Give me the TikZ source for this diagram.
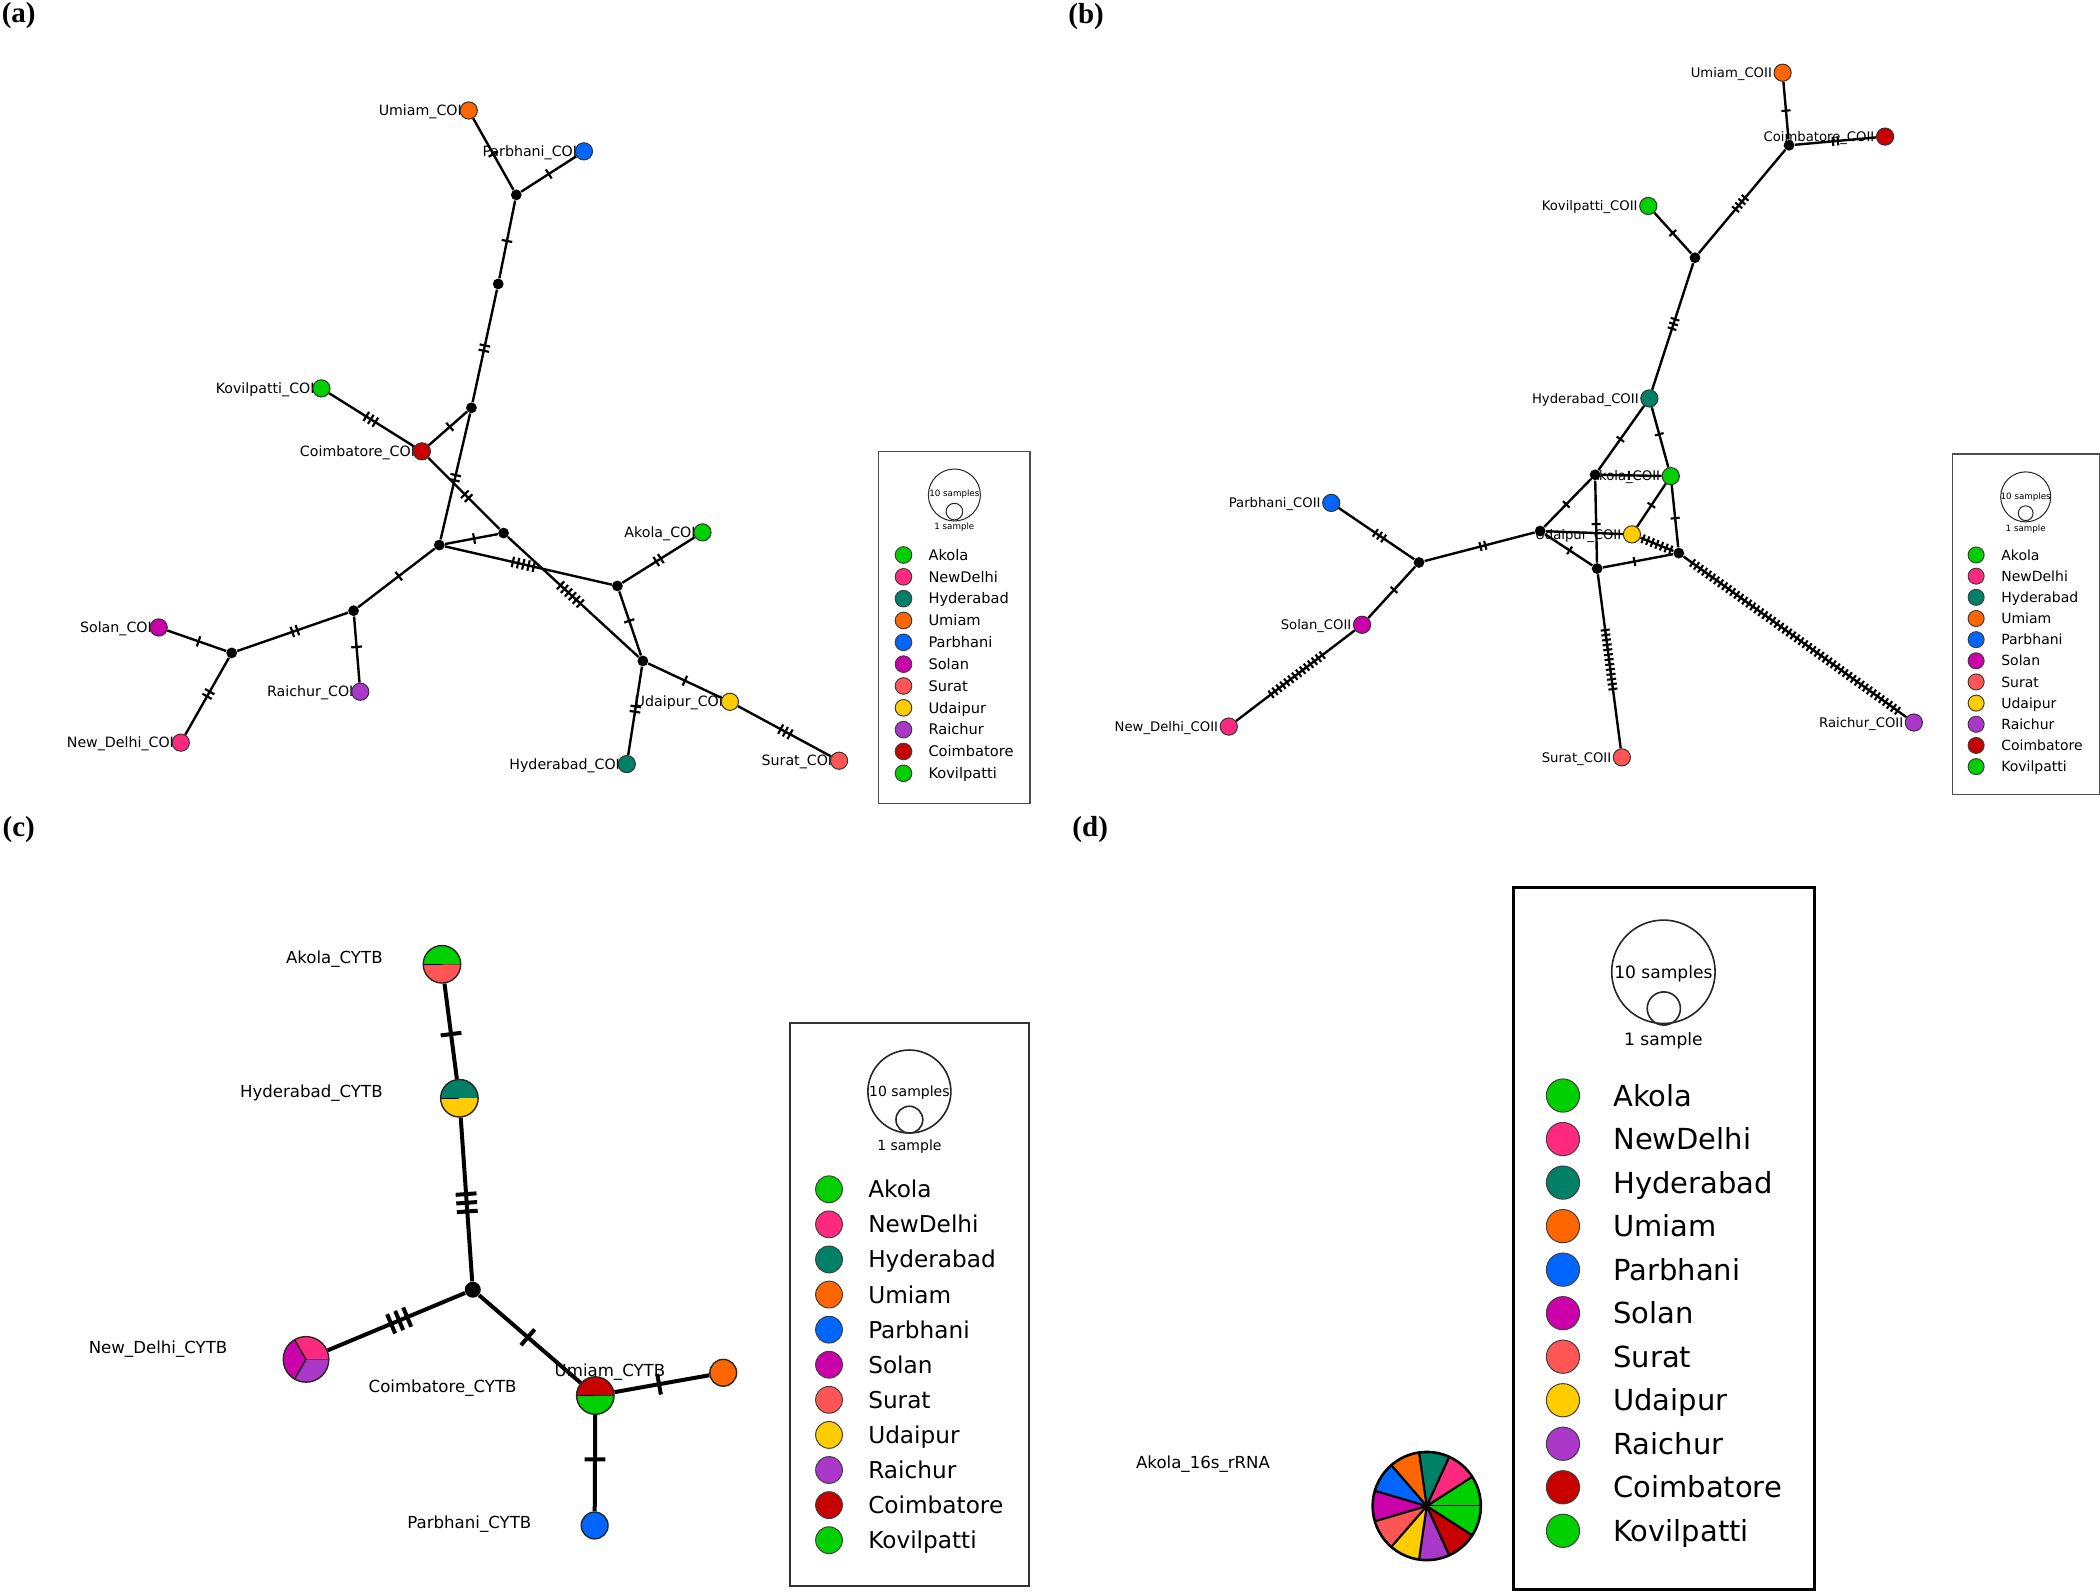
\documentclass[tikz,border=0pt]{standalone}
\usepackage{fontspec}
\setmainfont{DejaVu Sans}
\newfontfamily\serifbold{Liberation Serif}
\usetikzlibrary{decorations.markings}
\pgfdeclarelayer{bg}
\pgfdeclarelayer{fg}
\pgfsetlayers{bg,main,fg}
\definecolor{cAk}{RGB}{0,208,0}
\definecolor{cND}{RGB}{255,42,127}
\definecolor{cHy}{RGB}{0,128,102}
\definecolor{cUm}{RGB}{255,102,0}
\definecolor{cPa}{RGB}{0,102,255}
\definecolor{cSo}{RGB}{204,0,170}
\definecolor{cSu}{RGB}{255,85,85}
\definecolor{cUd}{RGB}{255,204,0}
\definecolor{cRa}{RGB}{171,55,200}
\definecolor{cCo}{RGB}{200,0,0}
\definecolor{cKo}{RGB}{0,208,0}
\def\mutlen{4}
\def\mutsp{4}
\def\mutw{1.1pt}
\newcommand\mypie[4]{%
  \begin{scope}[shift={(#1)}, yscale=-1]
    \foreach \c/\sa/\ea in {#3}{%
      \fill[\c] (0,0) -- (\sa:#2) arc[start angle=\sa, end angle=\ea, radius=#2] -- cycle;
      \draw[line width=#4] (0,0) -- (\sa:#2);}
  \end{scope}}
\tikzset{
  mut/.style 2 args={postaction={decorate,decoration={markings,
     mark=at position #2 with {\foreach \k in {1,...,#1}{\draw[line width=\mutw] ({(\k-(#1+1)/2)*\mutsp},-\mutlen) -- ({(\k-(#1+1)/2)*\mutsp},\mutlen);}}}}},
  plab/.style={inner sep=0pt, font=\serifbold\bfseries\fontsize{14.5}{16}\selectfont},
  hapA/.style={circle, draw=black!80, line width=0.5pt, inner sep=0pt, minimum size=8.6pt},
  medA/.style={circle, fill=black, inner sep=0pt, minimum size=5.4pt},
  edA/.style={line width=1.2pt},
  labA/.style={anchor=east, inner sep=0pt, font=\fontsize{7.1}{8}\selectfont, text height=5.2pt, text depth=0pt},
  labB/.style={anchor=east, inner sep=0pt, font=\fontsize{6.6}{8}\selectfont, text height=4.8pt, text depth=0pt},
  labC/.style={anchor=east, inner sep=0pt, font=\fontsize{8.3}{10}\selectfont, text height=6.05pt, text depth=0pt},
  legA/.style={anchor=west, inner sep=0pt, font=\fontsize{7.3}{8}\selectfont, text height=5.3pt, text depth=0pt},
  legB/.style={anchor=west, inner sep=0pt, font=\fontsize{7.0}{8}\selectfont, text height=5.1pt, text depth=0pt},
  legC/.style={anchor=west, inner sep=0pt, font=\fontsize{11.6}{13}\selectfont, text height=8.45pt, text depth=0pt},
  legD/.style={anchor=west, inner sep=0pt, font=\fontsize{14.5}{16}\selectfont, text height=10.6pt, text depth=0pt},
  sizeAB/.style={inner sep=0pt, font=\fontsize{4.35}{5}\selectfont, text height=3.2pt, text depth=0pt},
  sizeC/.style={inner sep=0pt, font=\fontsize{7.0}{8}\selectfont, text height=5.1pt, text depth=0pt},
  sizeD/.style={inner sep=0pt, font=\fontsize{8.55}{10}\selectfont, text height=6.2pt, text depth=0pt},
  ring/.style={circle, draw=black!85, inner sep=0pt},
  legdot/.style={circle, draw=black!75, line width=0.5pt, inner sep=0pt},
  edC/.style={line width=2pt},
  pieC/.style={circle, draw=black!85, line width=0.7pt, inner sep=0pt},
}
\begin{document}
\begin{tikzpicture}[x=0.6696pt,y=-0.6696pt]
\useasboundingbox (0,0) rectangle (1568,1189);

% panel labels
\node[plab] (pa) at (14,11.5) {(a)};
\node[plab] (pb) at (811,12) {(b)};
\node[plab] (pc) at (14,619) {(c)};
\node[plab] (pd) at (814,619) {(d)};

% ================= (a) =================
\begin{pgfonlayer}{fg}
\node[hapA,fill=cUm] (a-um) at (350,82.5) {};
\node[hapA,fill=cPa] (a-pa) at (436,113) {};
\node[medA] (a-j1) at (385.5,145.5) {};
\node[medA] (a-j2) at (372,212) {};
\node[medA] (a-j3) at (352,304.5) {};
\node[hapA,fill=cKo] (a-ko) at (240,290) {};
\node[hapA,fill=cCo] (a-co) at (315,337) {};
\node[medA] (a-j5) at (328,407) {};
\node[medA] (a-j4) at (376,398) {};
\node[hapA,fill=cAk] (a-ak) at (524.5,397.5) {};
\node[medA] (a-j6) at (461,437.5) {};
\node[medA] (a-j7) at (264,456) {};
\node[hapA,fill=cSo] (a-so) at (118.5,468.5) {};
\node[medA] (a-j8) at (173,487.5) {};
\node[hapA,fill=cRa] (a-ra) at (269,516.5) {};
\node[hapA,fill=cND] (a-nd) at (135,554.5) {};
\node[medA] (a-j9) at (480,493.5) {};
\node[hapA,fill=cUd] (a-ud) at (545,524) {};
\node[hapA,fill=cHy] (a-hy) at (468,570.5) {};
\node[hapA,fill=cSu] (a-su) at (626.5,568) {};
\end{pgfonlayer}
\foreach \n/\t in {um/Umiam,pa/Parbhani,ko/Kovilpatti,co/Coimbatore,ak/Akola,so/Solan,ra/Raichur,nd/New\_Delhi,ud/Udaipur,hy/Hyderabad,su/Surat}
  \node[labA] (a-l\n) at ([xshift=1.3pt]a-\n.west) {\t\_COI};
\begin{pgfonlayer}{bg}
\draw[edA,mut={1}{0.5}] (a-um) -- (a-j1);
\draw[edA,mut={1}{0.5}] (a-pa) -- (a-j1);
\draw[edA,mut={1}{0.52}] (a-j1) -- (a-j2);
\draw[edA,mut={2}{0.52}] (a-j2) -- (a-j3);
\draw[edA,mut={1}{0.45}] (a-j3) -- (a-co);
\draw[edA,mut={3}{0.49}] (a-ko) -- (a-co);
\draw[edA,mut={2}{0.51}] (a-j3) -- (a-j5);
\draw[edA,mut={2}{0.54}] (a-co) -- (a-j4);
\draw[edA,mut={1}{0.55}] (a-j5) -- (a-j4);
\draw[edA,mut={5}{0.47}] (a-j5) -- (a-j6);
\draw[edA,mut={6}{0.48}] (a-j4) -- (a-j9);
\draw[edA,mut={2}{0.5}] (a-ak) -- (a-j6);
\draw[edA,mut={1}{0.46}] (a-j6) -- (a-j9);
\draw[edA,mut={1}{0.47}] (a-j5) -- (a-j7);
\draw[edA,mut={2}{0.48}] (a-j7) -- (a-j8);
\draw[edA,mut={1}{0.46}] (a-j7) -- (a-ra);
\draw[edA,mut={1}{0.53}] (a-so) -- (a-j8);
\draw[edA,mut={2}{0.47}] (a-j8) -- (a-nd);
\draw[edA,mut={1}{0.5}] (a-j9) -- (a-ud);
\draw[edA,mut={2}{0.48}] (a-j9) -- (a-hy);
\draw[edA,mut={3}{0.51}] (a-ud) -- (a-su);
\end{pgfonlayer}
% legend (a)
\draw[black!70, line width=0.7pt] (656,337) rectangle (769,600);
\node[ring, line width=0.5pt, minimum size=26pt] (a-big) at (712.6,369.6) {};
\node[ring, line width=0.5pt, minimum size=8.3pt] (a-small) at (712.6,382) {};
\node[sizeAB] (a-t10) at (712.6,368) {10 samples};
\node[sizeAB] (a-t1) at (712.6,393) {1 sample};
\foreach \c/\n [count=\i from 0] in {cAk/Akola,cND/NewDelhi,cHy/Hyderabad,cUm/Umiam,cPa/Parbhani,cSo/Solan,cSu/Surat,cUd/Udaipur,cRa/Raichur,cCo/Coimbatore,cKo/Kovilpatti}{
  \node[legdot, fill=\c, minimum size=8.3pt] (a-ld\i) at (674.6,{414.4+16.3*\i}) {};
  \node[legA] (a-lt\i) at (693,{414.4+16.3*\i}) {\n};
}

% ================= (b) =================
\def\mutlen{3.4}
\def\mutsp{3.7}
\def\mutw{1.05pt}
\begin{pgfonlayer}{fg}
\node[hapA,fill=cUm] (b-um) at (1331,54.3) {};
\node[hapA,fill=cCo] (b-co) at (1407.5,102) {};
\node[medA] (b-j1) at (1335.8,108.5) {};
\node[hapA,fill=cKo] (b-ko) at (1230.7,153.8) {};
\node[medA] (b-j2) at (1265.6,192.4) {};
\node[hapA,fill=cHy] (b-hy) at (1231.5,297.5) {};
\node[medA] (b-j3) at (1191,354.5) {};
\node[hapA,fill=cAk] (b-ak) at (1247.5,355.5) {};
\node[hapA,fill=cPa] (b-pa) at (994,375.5) {};
\node[medA] (b-j4) at (1059.5,420) {};
\node[medA] (b-j5) at (1150,396.5) {};
\node[hapA,fill=cUd] (b-ud) at (1218.5,399) {};
\node[medA] (b-j6) at (1253.5,413) {};
\node[medA] (b-j7) at (1192.5,424.5) {};
\node[hapA,fill=cSo] (b-so) at (1017,466.5) {};
\node[hapA,fill=cND] (b-nd) at (917.5,542.5) {};
\node[hapA,fill=cSu] (b-su) at (1211,565.5) {};
\node[hapA,fill=cRa] (b-ra) at (1429,539.5) {};
\end{pgfonlayer}
\foreach \n/\t in {um/Umiam,co/Coimbatore,ko/Kovilpatti,hy/Hyderabad,ak/Akola,pa/Parbhani,ud/Udaipur,so/Solan,nd/New\_Delhi,su/Surat,ra/Raichur}
  \node[labB] (b-l\n) at ([xshift=-0.6pt]b-\n.west) {\t\_COII};
\begin{pgfonlayer}{bg}
\draw[edA,mut={1}{0.5}] (b-um) -- (b-j1);
\draw[edA,mut={2}{0.5}] (b-j1) -- (b-co);
\draw[edA,mut={4}{0.52}] (b-j1) -- (b-j2);
\draw[edA,mut={1}{0.5}] (b-ko) -- (b-j2);
\draw[edA,mut={3}{0.48}] (b-j2) -- (b-hy);
\draw[edA,mut={1}{0.52}] (b-hy) -- (b-j3);
\draw[edA,mut={1}{0.45}] (b-hy) -- (b-ak);
\draw[edA,mut={1}{0.46}] (b-j3) -- (b-ak);
\draw[edA,mut={1}{0.53}] (b-j3) -- (b-j5);
\draw[edA,mut={1}{0.53}] (b-j3) -- (b-j7);
\draw[edA,mut={1}{0.5}] (b-ak) -- (b-ud);
\draw[edA,mut={1}{0.53}] (b-ak) -- (b-j6);
\draw[edA,mut={1}{0.52}] (b-j5) -- (b-j7);
\draw[edA] (b-j5) -- (b-ud);
\draw[edA,mut={1}{0.45}] (b-j7) -- (b-j6);
\draw[edA,mut={7}{0.5}] (b-ud) -- (b-j6);
\draw[edA,mut={52}{0.5}] (b-j6) -- (b-ra);
\draw[edA,mut={3}{0.54}] (b-pa) -- (b-j4);
\draw[edA,mut={2}{0.53}] (b-j4) -- (b-j5);
\draw[edA,mut={1}{0.45}] (b-j4) -- (b-so);
\draw[edA,mut={14}{0.49}] (b-so) -- (b-nd);
\draw[edA,mut={13}{0.49}] (b-j7) -- (b-su);
\end{pgfonlayer}
% legend (b)
\draw[black!70, line width=0.7pt] (1458,339) rectangle (1567.5,593);
\node[ring, line width=0.5pt, minimum size=25pt] (b-big) at (1512.5,371) {};
\node[ring, line width=0.5pt, minimum size=7.4pt] (b-small) at (1512.5,383.2) {};
\node[sizeAB] (b-t10) at (1512.5,370.5) {10 samples};
\node[sizeAB] (b-t1) at (1512.5,394.5) {1 sample};
\foreach \c/\n [count=\i from 0] in {cAk/Akola,cND/NewDelhi,cHy/Hyderabad,cUm/Umiam,cPa/Parbhani,cSo/Solan,cSu/Surat,cUd/Udaipur,cRa/Raichur,cCo/Coimbatore,cKo/Kovilpatti}{
  \node[legdot, fill=\c, minimum size=8pt] (b-ld\i) at (1475.5,{414.4+15.8*\i}) {};
  \node[legB] (b-lt\i) at (1494,{414.4+15.8*\i}) {\n};
}

% ================= (c) =================
\def\mutlen{7.8}
\def\mutsp{6.5}
\def\mutw{2pt}
\begin{pgfonlayer}{fg}
\mypie{330,720}{14}{cAk/0/180,cSu/180/360}{0.6pt}
\mypie{343,820}{14}{cHy/0/180,cUd/180/360}{0.6pt}
\mypie{228.5,1015}{17}{cND/0/120,cSo/120/240,cRa/240/360}{0.6pt}
\mypie{444.5,1042}{14}{cCo/0/180,cAk/180/360}{0.6pt}
\node[pieC, minimum size=18.75pt] (c-ak) at (330,720) {};
\node[pieC, minimum size=18.75pt] (c-hy) at (343,820) {};
\node[pieC, minimum size=22.8pt] (c-nd) at (228.5,1015) {};
\node[pieC, minimum size=18.75pt] (c-co) at (444.5,1042) {};
\node[pieC, fill=cUm, minimum size=13.4pt] (c-um) at (540,1025) {};
\node[pieC, fill=cPa, minimum size=13.4pt] (c-pa) at (444,1139) {};
\node[circle, fill=black, inner sep=0pt, minimum size=8pt] (c-j) at (353,963) {};
\end{pgfonlayer}
\node[labC] (c-lak) at (286,715) {Akola\_CYTB};
\node[labC] (c-lhy) at (286,815) {Hyderabad\_CYTB};
\node[labC] (c-lnd) at (170,1006) {New\_Delhi\_CYTB};
\node[labC] (c-lco) at (386,1035) {Coimbatore\_CYTB};
\node[labC] (c-lum) at (497,1023) {Umiam\_CYTB};
\node[labC] (c-lpa) at (397,1137) {Parbhani\_CYTB};
\begin{pgfonlayer}{bg}
\draw[edC,mut={1}{0.53}] (c-ak) -- (c-hy);
\draw[edC,mut={3}{0.52}] (c-hy) -- (c-j);
\draw[edC,mut={3}{0.48}] (c-j) -- (c-nd);
\draw[edC,mut={1}{0.48}] (c-j) -- (c-co);
\draw[edC,mut={1}{0.47}] (c-co) -- (c-um);
\draw[edC,mut={1}{0.46}] (c-co) -- (c-pa);
\end{pgfonlayer}
% legend (c)
\draw[black!80, line width=1pt] (590,764) rectangle (768,1184);
\node[ring, line width=0.8pt, minimum size=41.5pt] (c-big) at (679,815) {};
\node[ring, line width=0.8pt, minimum size=13.4pt] (c-small) at (679,836) {};
\node[sizeC] (c-t10) at (679,815) {10 samples};
\node[sizeC] (c-t1) at (679,855) {1 sample};
\foreach \c/\n [count=\i from 0] in {cAk/Akola,cND/NewDelhi,cHy/Hyderabad,cUm/Umiam,cPa/Parbhani,cSo/Solan,cSu/Surat,cUd/Udaipur,cRa/Raichur,cCo/Coimbatore,cKo/Kovilpatti}{
  \node[legdot, fill=\c, minimum size=13.4pt] (c-ld\i) at (619,{888+26.2*\i}) {};
  \node[legC] (c-lt\i) at (648,{888+26.2*\i}) {\n};
}

% ================= (d) =================
\begin{pgfonlayer}{fg}
\mypie{1065.3,1124.5}{40.4}{cAk/0/32.727,cND/32.727/65.455,cHy/65.455/98.182,cUm/98.182/130.909,cPa/130.909/163.636,cSo/163.636/196.364,cSu/196.364/229.091,cUd/229.091/261.818,cRa/261.818/294.545,cCo/294.545/327.273,cKo/327.273/360}{1.1pt}
\node[circle, draw=black, line width=1.3pt, inner sep=0pt, minimum size=54.1pt] (d-ak) at (1065.3,1124.5) {};
\end{pgfonlayer}
\node[labC, anchor=west] (d-lak) at (848,1092) {Akola\_16s\_rRNA};
% legend (d)
\draw[black, line width=1.4pt] (1130,662.5) rectangle (1355,1187);
\node[ring, line width=0.8pt, minimum size=51.7pt] (d-big) at (1242,725.6) {};
\node[ring, line width=0.8pt, minimum size=16.6pt] (d-small) at (1242.3,753) {};
\node[sizeD] (d-t10) at (1242,726) {10 samples};
\node[sizeD] (d-t1) at (1242,776) {1 sample};
\foreach \c/\n [count=\i from 0] in {cAk/Akola,cND/NewDelhi,cHy/Hyderabad,cUm/Umiam,cPa/Parbhani,cSo/Solan,cSu/Surat,cUd/Udaipur,cRa/Raichur,cCo/Coimbatore,cKo/Kovilpatti}{
  \node[legdot, fill=\c, minimum size=16.6pt] (d-ld\i) at (1167,{818+32.5*\i}) {};
  \node[legD] (d-lt\i) at (1204.3,{818+32.5*\i}) {\n};
}
\end{tikzpicture}
\end{document}
